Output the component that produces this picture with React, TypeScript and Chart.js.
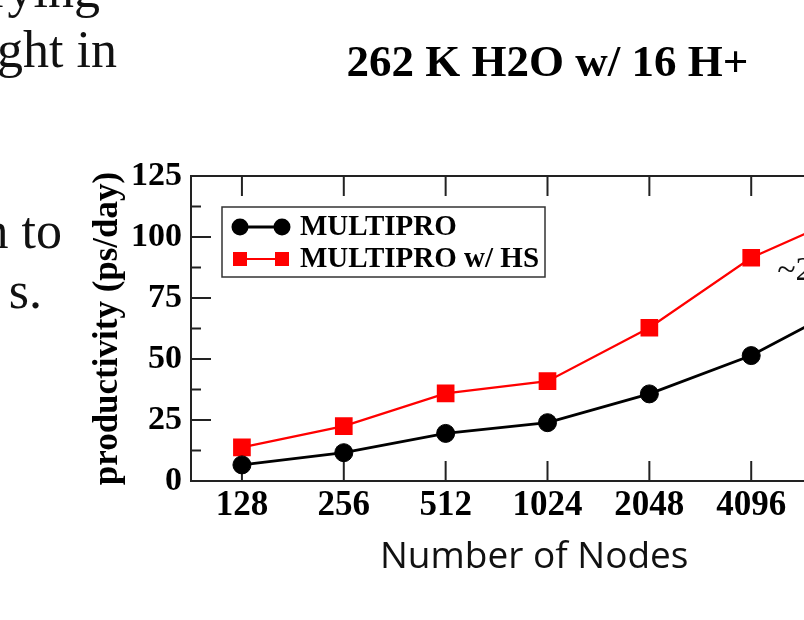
import React, { useEffect, useRef } from 'react';
import { Chart, registerables } from 'chart.js';

Chart.register(...registerables);

// ---- data ----
const nodeCounts = ['128', '256', '512', '1024', '2048', '4096', '8192'];
const multipro = [6.6, 11.6, 19.5, 23.9, 35.7, 51.4, 73.5];
const multiproHS = [13.8, 22.5, 35.9, 40.9, 62.8, 91.5, 110];
const seriesLabels = ['MULTIPRO', 'MULTIPRO w/ HS'];
const yMin = 0;
const yMax = 125;
const yStep = 25;
const chartTitle = '262 K H2O w/ 16 H+';
const yTitle = 'productivity (ps/day)';
const xTitle = 'Number of Nodes';
const speedupNote = '~2x';
const slideLines = ['rying', 'ght in', 'n to', 's.'];

const SERIF = '"Liberation Serif", "Times New Roman", serif';

const frameTicksPlugin = {
  id: 'frameTicks',
  beforeDatasetsDraw(chart: any) {
    const { ctx, chartArea: a, scales } = chart;
    const x = scales.x;
    const y = scales.y;
    ctx.save();
    ctx.strokeStyle = '#222';
    ctx.lineWidth = 2;
    ctx.strokeRect(a.left, a.top, a.right - a.left, a.bottom - a.top);
    const seg = (x1: number, y1: number, x2: number, y2: number) => {
      ctx.beginPath();
      ctx.moveTo(x1, y1);
      ctx.lineTo(x2, y2);
      ctx.stroke();
    };
    x.ticks.forEach((_t: any, i: number) => {
      const px = x.getPixelForTick(i);
      seg(px, a.bottom, px, a.bottom - 20);
      seg(px, a.top, px, a.top + 20);
    });
    const half = yStep / 2;
    for (let v = y.min; v <= y.max + 1e-9; v += half) {
      const py = y.getPixelForValue(v);
      const len = Math.abs(v % yStep) < 1e-9 ? 20 : 10;
      seg(a.left, py, a.left + len, py);
      seg(a.right, py, a.right - len, py);
    }
    ctx.restore();
  },
};

const legendNotePlugin = {
  id: 'legendNote',
  afterDatasetsDraw(chart: any) {
    const { ctx, chartArea: a, scales } = chart;
    ctx.save();
    // annotation
    ctx.font = `34px ${SERIF}`;
    ctx.fillStyle = '#111';
    ctx.textAlign = 'left';
    ctx.textBaseline = 'middle';
    ctx.fillText(speedupNote, scales.x.getPixelForValue(5) + 26, scales.y.getPixelForValue(86));

    // legend box
    const bx = a.left + 31;
    const by = a.top + 31;
    const bw = 323;
    const bh = 70;
    ctx.fillStyle = '#fff';
    ctx.fillRect(bx, by, bw, bh);
    ctx.strokeStyle = '#333';
    ctx.lineWidth = 1.5;
    ctx.strokeRect(bx, by, bw, bh);
    chart.data.datasets.forEach((ds: any, i: number) => {
      const cy = by + 20 + i * 32;
      const x1 = bx + 18;
      const x2 = bx + 60;
      ctx.strokeStyle = ds.borderColor;
      ctx.lineWidth = ds.borderWidth;
      ctx.beginPath();
      ctx.moveTo(x1, cy);
      ctx.lineTo(x2, cy);
      ctx.stroke();
      ctx.fillStyle = ds.backgroundColor;
      [x1, x2].forEach((mx) => {
        if (ds.pointStyle === 'circle') {
          ctx.beginPath();
          ctx.arc(mx, cy, 8.5, 0, Math.PI * 2);
          ctx.fill();
        } else {
          ctx.fillRect(mx - 7, cy - 7, 14, 14);
        }
      });
      ctx.fillStyle = '#000';
      ctx.font = `bold 29px ${SERIF}`;
      ctx.textAlign = 'left';
      ctx.textBaseline = 'middle';
      ctx.fillText(ds.label, bx + 78, cy + 1);
    });
    ctx.restore();
  },
};

export default function App() {
  const canvasRef = useRef<HTMLCanvasElement | null>(null);

  useEffect(() => {
    if (!canvasRef.current) return;
    const chart = new Chart(canvasRef.current, {
      type: 'line',
      data: {
        labels: nodeCounts,
        datasets: [
          {
            label: seriesLabels[0],
            data: multipro,
            borderColor: '#000000',
            backgroundColor: '#000000',
            borderWidth: 2.8,
            pointStyle: 'circle',
            pointRadius: 9,
            pointBorderWidth: 1,
            tension: 0,
          },
          {
            label: seriesLabels[1],
            data: multiproHS,
            borderColor: '#ff0000',
            backgroundColor: '#ff0000',
            borderWidth: 2.2,
            pointStyle: 'rect',
            pointRadius: 12.5,
            pointBorderWidth: 0,
            tension: 0,
          },
        ],
      },
      options: {
        responsive: false,
        animation: false,
        layout: { padding: { left: 0, right: 20, top: 0, bottom: 0 } },
        plugins: {
          legend: { display: false },
          tooltip: { enabled: false },
          title: {
            display: true,
            text: chartTitle,
            fullSize: false,
            color: '#000',
            font: { family: SERIF, size: 45, weight: 'bold' },
            padding: { top: 37, bottom: 85 },
          },
        },
        scales: {
          x: {
            type: 'category',
            offset: true,
            grid: { display: false, drawTicks: false },
            border: { display: false },
            ticks: {
              color: '#000',
              padding: 4,
              autoSkip: false,
              maxRotation: 0,
              font: { family: SERIF, size: 35, weight: 'bold' },
            },
            afterFit: (s: any) => {
              s.height = 139;
            },
          },
          y: {
            min: yMin,
            max: yMax,
            grid: { display: false, drawTicks: false },
            border: { display: false },
            ticks: {
              stepSize: yStep,
              color: '#000',
              padding: 9,
              font: { family: SERIF, size: 34, weight: 'bold' },
            },
            title: {
              display: true,
              text: yTitle,
              color: '#000',
              font: { family: SERIF, size: 35, weight: 'bold' },
              padding: { top: 87, bottom: 0 },
            },
            afterFit: (s: any) => {
              s.width = 191;
            },
          },
        },
      } as any,
      plugins: [frameTicksPlugin, legendNotePlugin],
    });
    return () => chart.destroy();
  }, []);

  const lineStyle = (right: number, baseline: number): React.CSSProperties => ({
    position: 'absolute',
    right: 804 - right,
    top: baseline - 43.5,
    font: `52px ${SERIF}`,
    lineHeight: 1,
    whiteSpace: 'nowrap',
    color: '#111',
  });

  return (
    <div
      style={{
        position: 'fixed',
        left: 0,
        top: 0,
        width: 804,
        height: 620,
        overflow: 'hidden',
        background: '#fff',
      }}
    >
      <canvas ref={canvasRef} width={924} height={620} style={{ position: 'absolute', left: 0, top: 0 }} />
      <div style={lineStyle(100, 7)}>{slideLines[0]}</div>
      <div style={lineStyle(117, 67)}>{slideLines[1]}</div>
      <div style={lineStyle(62, 248)}>{slideLines[2]}</div>
      <div style={lineStyle(42, 308)}>{slideLines[3]}</div>
      <div
        style={{
          position: 'absolute',
          left: 380,
          top: 535,
          font: '37px "Open Sans", sans-serif',
          lineHeight: 1,
          whiteSpace: 'nowrap',
          color: '#111',
        }}
      >
        {xTitle}
      </div>
    </div>
  );
}
